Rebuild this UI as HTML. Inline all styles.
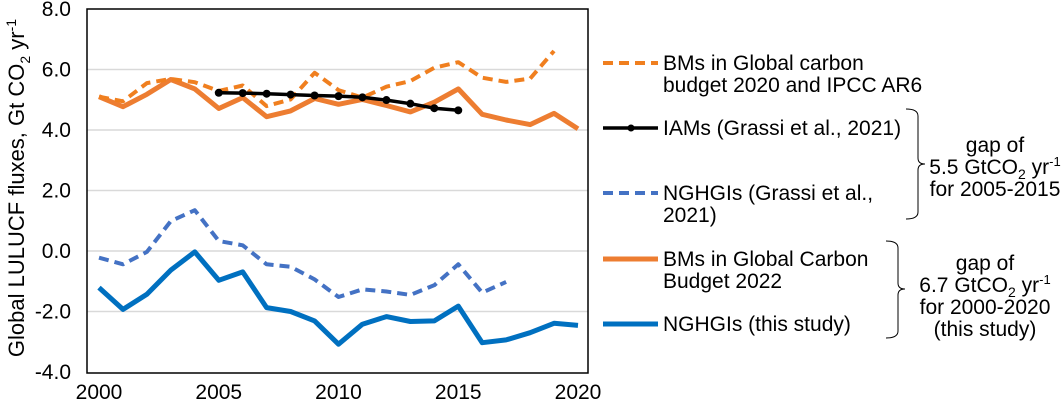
<!DOCTYPE html>
<html><head><meta charset="utf-8"><style>
body{margin:0;background:#fff;}
svg text{font-family:"Liberation Sans",Arial,sans-serif;fill:#000;}
</style></head><body>
<svg width="1062" height="402" viewBox="0 0 1062 402">
<g id="grid"></g>
<g id="series"></g>
<rect x="87" y="9" width="501" height="364" fill="none" stroke="#000" stroke-width="1.5"/>
<g id="ticks"></g>
<text transform="translate(24,188) rotate(-90)" text-anchor="middle" font-size="22">Global LULUCF fluxes,  Gt CO<tspan font-size="14" dy="6">2</tspan><tspan dy="-6"> yr</tspan><tspan font-size="14" dy="-8">-1</tspan></text>

<g font-size="21">
<g>
<line x1="603" y1="63" x2="658" y2="63" stroke="#f07f1f" stroke-width="4" stroke-dasharray="10,6"/>
<text x="663" y="70">BMs in Global carbon</text><text x="663" y="92">budget 2020 and IPCC AR6</text></g>
<g>
<line x1="603" y1="128" x2="658" y2="128" stroke="#000" stroke-width="3.5"/><circle cx="631" cy="128" r="3.5" fill="#000"/>
<text x="663" y="135">IAMs (Grassi et al., 2021)</text></g>
<g>
<line x1="603" y1="193" x2="658" y2="193" stroke="#4472c4" stroke-width="4" stroke-dasharray="10,6"/>
<text x="663" y="200">NGHGIs (Grassi et al.,</text><text x="663" y="222">2021)</text></g>
<g>
<line x1="603" y1="259" x2="658" y2="259" stroke="#ed7d31" stroke-width="5"/>
<text x="663" y="266">BMs in Global Carbon</text><text x="663" y="288">Budget 2022</text></g>
<g>
<line x1="603" y1="324" x2="658" y2="324" stroke="#0070c0" stroke-width="5"/>
<text x="663" y="331">NGHGIs (this study)</text></g>
</g>

<g font-size="21">
<path d="M906,109 Q918,109 918,116 L918,158 Q918,164 925,164 Q918,164 918,170 L918,212 Q918,219 906,219" fill="none" stroke="#000" stroke-width="1"/>
<text x="995" y="152" text-anchor="middle">gap of</text>
<text x="995" y="174" text-anchor="middle">5.5 GtCO<tspan font-size="14" dy="5">2</tspan><tspan dy="-5"> yr</tspan><tspan font-size="13" dy="-8">-1</tspan></text>
<text x="995" y="196" text-anchor="middle">for 2005-2015</text>
</g>
<g font-size="21">
<path d="M886,241 Q898,241 898,248 L898,283 Q898,289 905,289 Q898,289 898,295 L898,331 Q898,338 886,338" fill="none" stroke="#000" stroke-width="1"/>
<text x="985" y="270" text-anchor="middle">gap of</text>
<text x="985" y="292" text-anchor="middle">6.7 GtCO<tspan font-size="14" dy="5">2</tspan><tspan dy="-5"> yr</tspan><tspan font-size="13" dy="-8">-1</tspan></text>
<text x="985" y="314" text-anchor="middle">for 2000-2020</text>
<text x="985" y="336" text-anchor="middle">(this study)</text>
</g>
</svg>
<script>
const years=[2000,2001,2002,2003,2004,2005,2006,2007,2008,2009,2010,2011,2012,2013,2014,2015,2016,2017,2018,2019,2020];
const bmsGcb2022=[5.10,4.77,5.18,5.67,5.36,4.71,5.07,4.44,4.63,5.04,4.85,5.01,4.81,4.60,4.92,5.36,4.52,4.33,4.18,4.55,4.04];
const bmsGcb2020=[5.10,4.95,5.55,5.69,5.58,5.29,5.47,4.79,5.01,5.89,5.32,5.07,5.43,5.62,6.06,6.24,5.73,5.59,5.70,6.61];
const iamsYears=[2005,2006,2007,2008,2009,2010,2011,2012,2013,2014,2015];
const iams=[5.23,5.22,5.20,5.17,5.14,5.12,5.08,4.99,4.87,4.72,4.65];
const nghgiGrassi=[-0.22,-0.44,-0.03,0.99,1.35,0.33,0.19,-0.44,-0.52,-0.94,-1.52,-1.27,-1.34,-1.45,-1.13,-0.44,-1.38,-1.02];
const nghgiThis=[-1.21,-1.93,-1.43,-0.63,-0.03,-0.97,-0.69,-1.87,-2.00,-2.31,-3.08,-2.42,-2.17,-2.33,-2.31,-1.82,-3.03,-2.94,-2.70,-2.39,-2.46];
const yTicks=[8,6,4,2,0,-2,-4];
const yTickLabels=["8.0","6.0","4.0","2.0","0.0","-2.0","-4.0"];
const xTicks=[2000,2005,2010,2015,2020];

const NS="http://www.w3.org/2000/svg";
const X=y=>99+(y-2000)*(578-99)/20;
const Y=v=>251-v*(251-9)/8;
function mk(t,a,p){const e=document.createElementNS(NS,t);for(const k in a)e.setAttribute(k,a[k]);p.appendChild(e);return e;}
const grid=document.getElementById('grid'),ser=document.getElementById('series'),tk=document.getElementById('ticks');
yTicks.forEach((v,i)=>{
 if(v>-4&&v<8){const l=mk('line',{x1:87,x2:588,y1:Y(v),y2:Y(v),stroke:'#d9d9d9','stroke-width':1.5},grid);
 
 }
 const t=mk('text',{x:71,y:Y(v)+7,'text-anchor':'end','font-size':21},tk);t.textContent=yTickLabels[i];
 
 
});
xTicks.forEach(v=>{const t=mk('text',{x:X(v),y:399,'text-anchor':'middle','font-size':21},tk);t.textContent=v;
 
 });
function line(xs,vs,stroke,w,dash,name){
 const d=vs.map((v,i)=>(i?'L':'M')+X(xs[i]).toFixed(1)+','+Y(v).toFixed(1)).join('');
 const p=mk('path',{d:d,fill:'none',stroke:stroke,'stroke-width':w,'stroke-linejoin':'round'},ser);
 if(dash)p.setAttribute('stroke-dasharray',dash);
 
 
}
line(years,bmsGcb2022,'#ed7d31',5,null,'line-bms-gcb2022');
line(years.slice(0,bmsGcb2020.length),bmsGcb2020,'#f07f1f',4,'10,6','line-bms-gcb2020');
line(years.slice(0,nghgiGrassi.length),nghgiGrassi,'#4472c4',4,'10,6','line-nghgis-grassi');
line(years,nghgiThis,'#0070c0',5,null,'line-nghgis-this-study');
line(iamsYears,iams,'#000',3.5,null,'line-iams');
iams.forEach((v,i)=>{const c=mk('circle',{cx:X(iamsYears[i]),cy:Y(v),r:4,fill:'#000'},ser);
 
 });
</script>
</body></html>
